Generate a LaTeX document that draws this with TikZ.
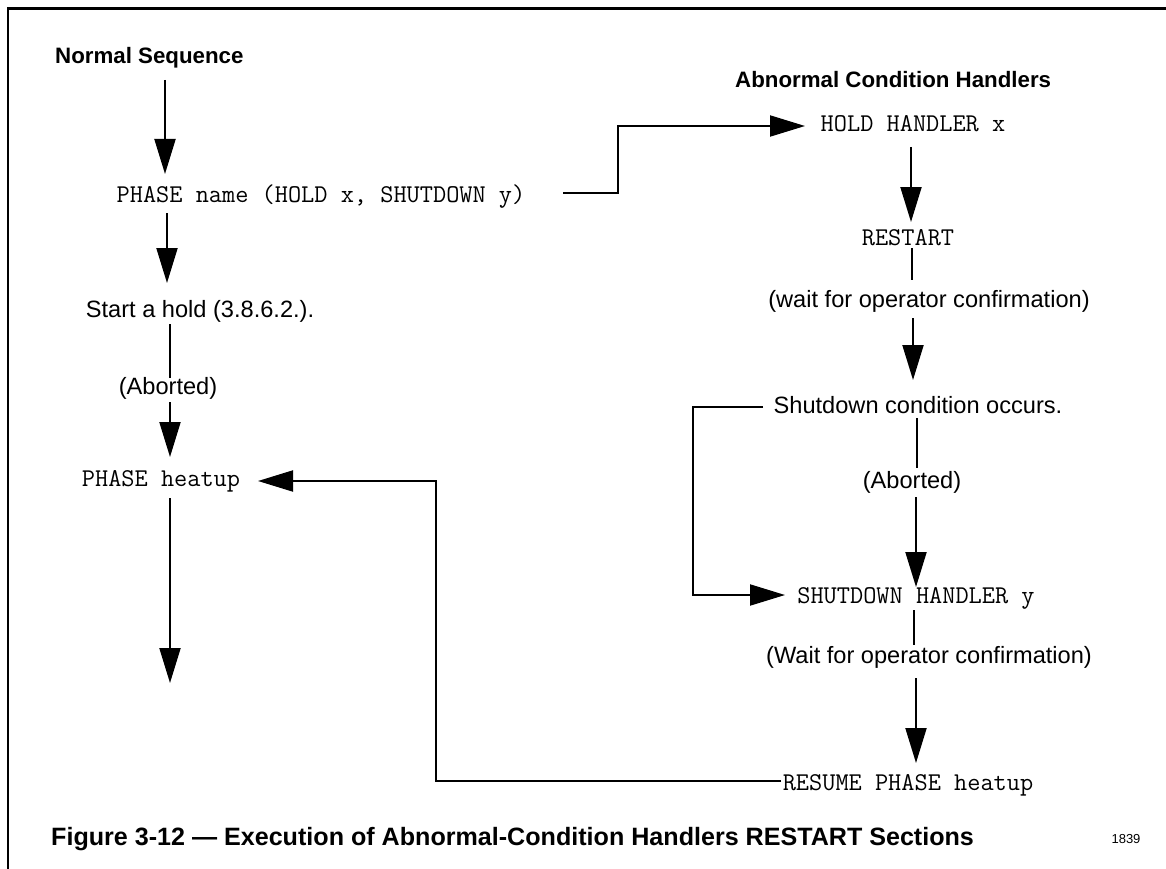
\documentclass[tikz,border=0pt]{standalone}
\usepackage{fontspec}
\setmainfont{Liberation Sans}
\usetikzlibrary{arrows.meta}
\begin{document}
\begin{tikzpicture}[x=1pt,y=-1pt,
  conn/.style={line width=2pt},
  arr/.style={conn,-{Triangle[length=35pt,width=21pt]}},
  code/.style={font=\fontsize{25.6}{28}\ttfamily,inner sep=0pt,anchor=base},
  plain/.style={font=\fontsize{23.6}{27}\selectfont,inner sep=0pt,anchor=base},
  heading/.style={font=\fontsize{22.3}{26}\selectfont\bfseries,inner sep=0pt,anchor=base west},
]
\useasboundingbox (0,0) rectangle (1166,869);

% page frame (top and left rules)
\draw[line width=2.5pt] (1166,8.7) -- (7.8,8.7) -- (7.8,869);

% headings
\node[heading] (ns) at (55,64) {Normal Sequence};
\node[heading] (ah) at (735,88) {Abnormal Condition Handlers};

% normal sequence column
\node[code]  (pn)  at (321,202) {PHASE name (HOLD x, SHUTDOWN y)};
\node[plain] (sh)  at (200,317) {Start a hold (3.8.6.2.).};
\node[plain] (ab1) at (168,394) {(Aborted)};
\node[code]  (ph)  at (161,486) {PHASE heatup};

% handler column
\node[code]  (hh)  at (913,132) {HOLD HANDLER x};
\node[code]  (rs)  at (908,245) {RESTART};
\node[plain] (w1)  at (929,307) {(wait for operator confirmation)};
\node[plain] (sc)  at (918,413) {Shutdown condition occurs.};
\node[plain] (ab2) at (912,488) {(Aborted)};
\node[code]  (sd)  at (916,603) {SHUTDOWN HANDLER y};
\node[plain] (w2)  at (929,663) {(Wait for operator confirmation)};
\node[code]  (rp)  at (908,790) {RESUME PHASE heatup};

% caption and figure number
\node[font=\fontsize{25.1}{28}\selectfont\bfseries,inner sep=0pt,anchor=base west] (cap) at (51,845)
  {Figure 3-12 --- Execution of Abnormal-Condition Handlers RESTART Sections};
\node[font=\fontsize{13}{15}\selectfont,inner sep=0pt,anchor=base] (num) at (1126,843) {1839};

% connector end points
\coordinate (nsB) at (165,80);   \coordinate (pnT) at (165,174);
\coordinate (pnB) at (167,213);  \coordinate (shT) at (167,283);
\coordinate (shB) at (170,324);  \coordinate (a1T) at (170,378);
\coordinate (a1B) at (170,402);  \coordinate (phT) at (170,457);
\coordinate (phB) at (170,498);  \coordinate (cont) at (170,683);
\coordinate (pnR) at (563,193);  \coordinate (hhL) at (805,126);
\coordinate (hhB) at (911,147);  \coordinate (rsT) at (911,222);
\coordinate (rsB) at (912,248);  \coordinate (w1T) at (912,280);
\coordinate (w1B) at (913,318);  \coordinate (scT) at (913,380);
\coordinate (scL) at (763,407);  \coordinate (sdL) at (785,595);
\coordinate (scB) at (917,418);  \coordinate (a2T) at (917,468);
\coordinate (a2B) at (916,497);  \coordinate (sdT) at (916,587);
\coordinate (sdB) at (914,610);  \coordinate (w2T) at (914,645);
\coordinate (w2B) at (916,678);  \coordinate (rpT) at (916,763);
\coordinate (rpL) at (781,781);  \coordinate (phR) at (258,481);

% normal sequence flow
\draw[arr]  (nsB) -- (pnT);
\draw[arr]  (pnB) -- (shT);
\draw[conn] (shB) -- (a1T);
\draw[arr]  (a1B) -- (phT);
\draw[arr]  (phB) -- (cont);

% into the hold handler
\draw[arr] (pnR) -- (618,193) -- (618,126) -- (hhL);

% hold handler flow
\draw[arr]  (hhB) -- (rsT);
\draw[conn] (rsB) -- (w1T);
\draw[arr]  (w1B) -- (scT);

% shutdown branch
\draw[arr]  (scL) -- (693,407) -- (693,595) -- (sdL);
\draw[conn] (scB) -- (a2T);
\draw[arr]  (a2B) -- (sdT);
\draw[conn] (sdB) -- (w2T);
\draw[arr]  (w2B) -- (rpT);

% resume back to the heatup phase
\draw[arr] (rpL) -- (436,781) -- (436,481) -- (phR);
\end{tikzpicture}
\end{document}
